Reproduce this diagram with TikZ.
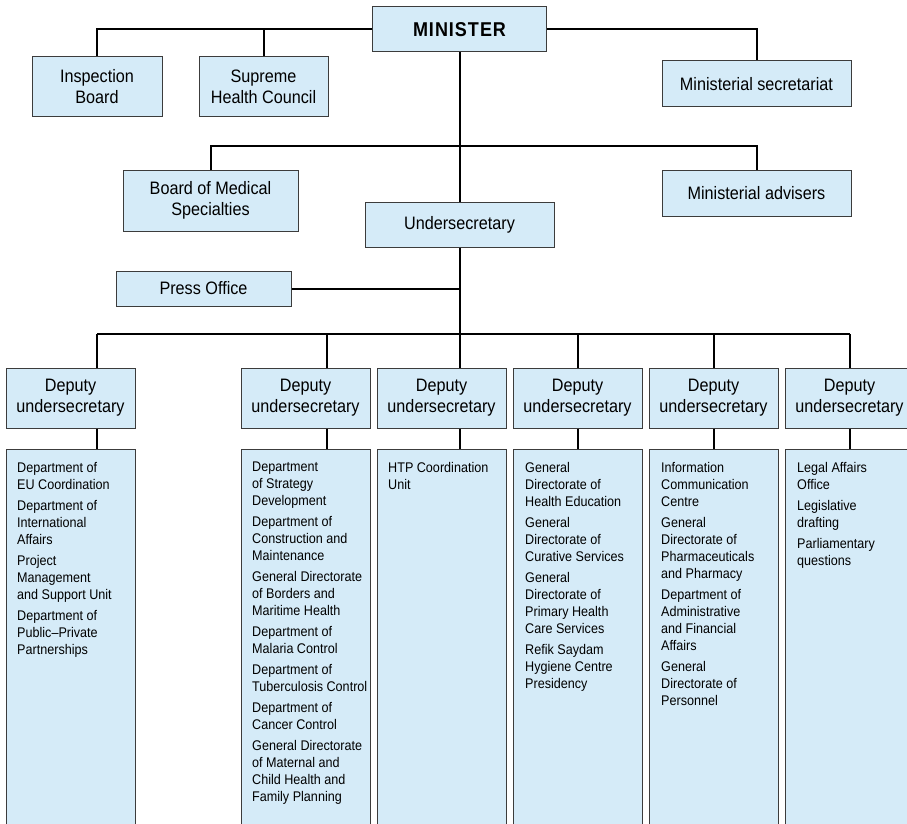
\documentclass[tikz,border=0pt]{standalone}
\usepackage{fontspec}
\setmainfont[FakeStretch=0.9]{Liberation Sans}
\newfontfamily\ministerfont[FakeStretch=0.9,LetterSpace=5]{Liberation Sans}
\usepackage{xcolor}
\definecolor{boxfill}{HTML}{D5EBF8}
\definecolor{boxline}{HTML}{3C3C3C}
\usepackage{tikz}
\usetikzlibrary{positioning,calc}

\tikzset{
  unit/.style={draw=boxline, fill=boxfill, line width=1pt, inner sep=0pt,
    align=center, font=\fontsize{18}{21}\selectfont},
  deputy/.style={unit, minimum width=129pt, minimum height=60pt},
  column/.style={draw=boxline, fill=boxfill, line width=1pt, inner sep=0pt,
    minimum width=129pt, minimum height=420pt, anchor=north west},
  listtxt/.style={inner sep=0pt, align=left, anchor=north west,
    font=\fontsize{14}{17}\selectfont},
  link/.style={line width=2pt, black}
}

\begin{document}
\begin{tikzpicture}[x=1pt, y=-1pt]
    \clip (0,0) rectangle (907,824);
    % Top level
    \node[unit, minimum width=174pt, minimum height=45pt] (min) at (459.5,29.5)
      {\ministerfont\bfseries\fontsize{20}{22}\selectfont MINISTER};
    \node[unit, minimum width=130pt, minimum height=60pt] (insp) at (97,87) {Inspection\\Board};
    \node[unit, minimum width=129pt, minimum height=60pt] (shc) at (263.5,87) {Supreme\\Health Council};
    \node[unit, minimum width=189pt, minimum height=46pt] (msec) at (756.5,84) {Ministerial secretariat};
    \node[unit, minimum width=175pt, minimum height=61pt] (bms) at (210.5,200.5) {Board of Medical\\Specialties};
    \node[unit, minimum width=189pt, minimum height=46pt] (madv) at (756.5,193) {Ministerial advisers};
    \node[unit, minimum width=189pt, minimum height=45pt] (under) at (459.5,224.5) {Undersecretary};
    \node[unit, minimum width=175pt, minimum height=35pt] (press) at (203.5,288.5) {Press Office};

    % Minister links
    \draw[link] (min.west) -| (insp.north);
    \draw[link] (shc.north) -- (shc.north |- min.west);
    \draw[link] (min.east) -| (msec.north);
    \draw[link] (min.south) -- (under.north);
    \coordinate (j1) at (459.5,146);
    \draw[link] (bms.north) |- (j1) -| (madv.north);
    \draw[link] (press.east) -- (press.east -| under.south);

    % Deputy undersecretaries and their units
    \foreach \i/\cx/\dx in {1/70.5/97, 2/305.5/327, 3/441.5/459.5, 4/577.5/577.5, 5/713.5/713.5, 6/849.5/849.5} {
      \node[deputy] (dep\i) at (\cx,398) {Deputy\\undersecretary};
      \node[column] (col\i) at (\cx-64.5,449) {};
      \coordinate (d\i) at (\dx,334);
      \draw[link] (d\i) -- (d\i |- dep\i.north);
      \draw[link] (d\i |- dep\i.south) -- (d\i |- col\i.north);
    }
    \draw[link] (under.south) -- (d3);
    \draw[link] (d1) -- (d6);

    % Unit lists
    \node[listtxt, below right=13pt and 11pt of col1.north west] (list1)
      {Department of\\EU Coordination\\[4pt]Department of\\International\\Affairs\\[4pt]Project\\Management\\and Support Unit\\[4pt]Department of\\Public--Private\\Partnerships};
    \node[listtxt, below right=13pt and 11pt of col2.north west] (list2)
      {Department\\of Strategy\\Development\\[4pt]Department of\\Construction and\\Maintenance\\[4pt]General Directorate\\of Borders and\\Maritime Health\\[4pt]Department of\\Malaria Control\\[4pt]Department of\\Tuberculosis Control\\[4pt]Department of\\Cancer Control\\[4pt]General Directorate\\of Maternal and\\Child Health and\\Family Planning};
    \node[listtxt, below right=13pt and 11pt of col3.north west] (list3)
      {HTP Coordination\\Unit};
    \node[listtxt, below right=13pt and 12pt of col4.north west] (list4)
      {General\\Directorate of\\Health Education\\[4pt]General\\Directorate of\\Curative Services\\[4pt]General\\Directorate of\\Primary Health\\Care Services\\[4pt]Refik Saydam\\Hygiene Centre\\Presidency};
    \node[listtxt, below right=13pt and 12pt of col5.north west] (list5)
      {Information\\Communication\\Centre\\[4pt]General\\Directorate of\\Pharmaceuticals\\and Pharmacy\\[4pt]Department of\\Administrative\\and Financial\\Affairs\\[4pt]General\\Directorate of\\Personnel};
    \node[listtxt, below right=13pt and 12pt of col6.north west] (list6)
      {Legal Affairs\\Office\\[4pt]Legislative\\drafting\\[4pt]Parliamentary\\questions};
  \end{tikzpicture}
\end{document}
